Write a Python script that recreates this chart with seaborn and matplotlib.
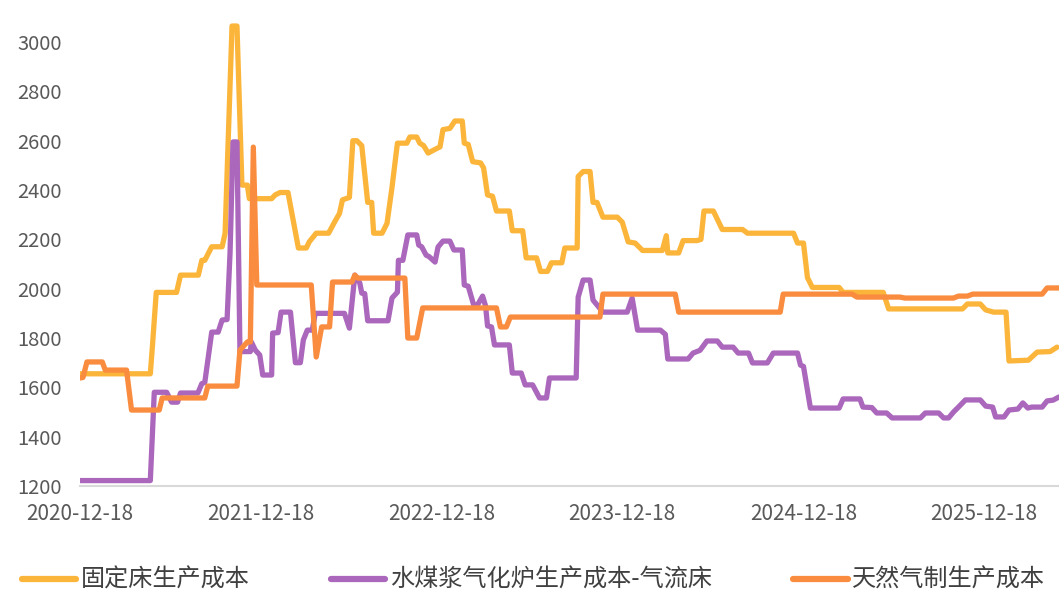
import pandas as pd
import seaborn as sns
import matplotlib.pyplot as plt
import matplotlib.dates as mdates
from matplotlib.lines import Line2D

# 固定床生产成本
fixed_dates = [
    "2020-12-18", "2021-05-09", "2021-05-13", "2021-05-21", "2021-07-01", "2021-07-09",
    "2021-08-14", "2021-08-21", "2021-08-27", "2021-09-10", "2021-10-01", "2021-10-07",
    "2021-10-21", "2021-10-31", "2021-11-10", "2021-11-21", "2021-11-25", "2022-01-09",
    "2022-01-16", "2022-01-26", "2022-02-11", "2022-03-04", "2022-03-20", "2022-03-26",
    "2022-04-09", "2022-05-04", "2022-05-16", "2022-05-26", "2022-06-01", "2022-06-15",
    "2022-06-22", "2022-06-30", "2022-07-10", "2022-07-22", "2022-07-30", "2022-08-03",
    "2022-08-20", "2022-08-30", "2022-09-09", "2022-09-20", "2022-10-09", "2022-10-15",
    "2022-10-29", "2022-11-04", "2022-11-12", "2022-11-21", "2022-12-05", "2022-12-15",
    "2022-12-21", "2023-01-04", "2023-01-14", "2023-01-29", "2023-02-02", "2023-02-10",
    "2023-02-19", "2023-03-07", "2023-03-13", "2023-03-21", "2023-03-31", "2023-04-08",
    "2023-05-04", "2023-05-10", "2023-05-31", "2023-06-07", "2023-06-28", "2023-07-06",
    "2023-07-20", "2023-07-28", "2023-08-18", "2023-08-24", "2023-09-18", "2023-09-20",
    "2023-09-30", "2023-10-14", "2023-10-20", "2023-10-28", "2023-11-09", "2023-12-08",
    "2023-12-18", "2023-12-30", "2024-01-13", "2024-01-28", "2024-03-08", "2024-03-16",
    "2024-03-19", "2024-04-10", "2024-04-19", "2024-05-17", "2024-05-25", "2024-05-31",
    "2024-06-19", "2024-07-07", "2024-08-17", "2024-08-27", "2024-11-28", "2024-12-06",
    "2024-12-18", "2024-12-26", "2025-01-05", "2025-02-28", "2025-03-08", "2025-05-28",
    "2025-06-08", "2025-11-04", "2025-11-14", "2025-12-10", "2025-12-21", "2026-01-06",
    "2026-01-31", "2026-02-06", "2026-03-17", "2026-04-04", "2026-04-30", "2026-05-14",
]
fixed_vals = [
    1655, 1655, 1760, 1985, 1985, 2055,
    2055, 2115, 2115, 2170, 2170, 2225,
    3065, 3065, 2420, 2420, 2365, 2365,
    2380, 2390, 2390, 2165, 2165, 2190,
    2225, 2225, 2270, 2305, 2360, 2370,
    2600, 2600, 2580, 2350, 2350, 2225,
    2225, 2265, 2410, 2590, 2590, 2615,
    2615, 2590, 2580, 2550, 2565, 2575,
    2645, 2650, 2680, 2680, 2590, 2585,
    2515, 2510, 2490, 2380, 2375, 2315,
    2315, 2235, 2235, 2125, 2125, 2070,
    2070, 2105, 2105, 2165, 2165, 2455,
    2475, 2475, 2350, 2350, 2290, 2290,
    2270, 2190, 2185, 2155, 2155, 2215,
    2145, 2145, 2195, 2195, 2200, 2315,
    2315, 2240, 2240, 2225, 2225, 2185,
    2185, 2045, 2005, 2005, 1985, 1985,
    1918, 1918, 1938, 1938, 1914, 1905,
    1905, 1707, 1710, 1743, 1745, 1763,
]

# 水煤浆气化炉生产成本-气流床
slurry_dates = [
    "2020-12-18", "2021-05-09", "2021-05-17", "2021-06-11", "2021-06-21", "2021-07-03",
    "2021-07-09", "2021-08-13", "2021-08-21", "2021-08-27", "2021-09-10", "2021-09-23",
    "2021-10-01", "2021-10-11", "2021-10-17", "2021-10-23", "2021-10-31", "2021-11-06",
    "2021-11-27", "2021-11-29", "2021-12-07", "2021-12-16", "2021-12-22", "2022-01-09",
    "2022-01-11", "2022-01-22", "2022-01-28", "2022-02-16", "2022-02-26", "2022-03-08",
    "2022-03-14", "2022-03-22", "2022-04-01", "2022-04-07", "2022-06-05", "2022-06-15",
    "2022-06-26", "2022-07-06", "2022-07-10", "2022-07-16", "2022-07-22", "2022-09-01",
    "2022-09-09", "2022-09-20", "2022-09-22", "2022-10-01", "2022-10-11", "2022-10-29",
    "2022-11-02", "2022-11-08", "2022-11-17", "2022-11-23", "2022-12-05", "2022-12-11",
    "2022-12-21", "2023-01-04", "2023-01-12", "2023-01-29", "2023-02-02", "2023-02-10",
    "2023-02-21", "2023-03-01", "2023-03-11", "2023-03-17", "2023-03-21", "2023-03-29",
    "2023-04-04", "2023-05-04", "2023-05-10", "2023-05-28", "2023-06-05", "2023-06-20",
    "2023-07-04", "2023-07-18", "2023-07-24", "2023-09-16", "2023-09-20", "2023-09-30",
    "2023-10-14", "2023-10-20", "2023-11-09", "2023-12-28", "2024-01-07", "2024-01-18",
    "2024-03-04", "2024-03-14", "2024-03-19", "2024-04-29", "2024-05-09", "2024-05-23",
    "2024-06-06", "2024-06-27", "2024-07-07", "2024-07-29", "2024-08-08", "2024-08-29",
    "2024-09-06", "2024-10-06", "2024-10-18", "2024-12-06", "2024-12-12", "2024-12-18",
    "2025-01-01", "2025-02-28", "2025-03-08", "2025-04-11", "2025-04-17", "2025-05-05",
    "2025-05-15", "2025-06-04", "2025-06-15", "2025-08-11", "2025-08-21", "2025-09-17",
    "2025-09-27", "2025-10-07", "2025-10-17", "2025-10-27", "2025-11-10", "2025-12-10",
    "2025-12-21", "2026-01-04", "2026-01-10", "2026-01-27", "2026-02-06", "2026-02-24",
    "2026-03-06", "2026-03-16", "2026-03-24", "2026-04-14", "2026-04-24", "2026-05-06",
    "2026-05-18",
]
slurry_vals = [
    1222, 1222, 1580, 1580, 1540, 1540,
    1577, 1577, 1615, 1620, 1824, 1824,
    1873, 1875, 2145, 2595, 2595, 1745,
    1745, 1784, 1751, 1731, 1650, 1650,
    1820, 1822, 1905, 1905, 1700, 1700,
    1792, 1832, 1832, 1900, 1900, 1840,
    2055, 2023, 1982, 1980, 1870, 1870,
    1962, 1986, 2115, 2115, 2218, 2218,
    2177, 2170, 2136, 2130, 2108, 2169,
    2193, 2193, 2157, 2157, 2015, 2010,
    1934, 1935, 1970, 1930, 1849, 1845,
    1772, 1772, 1658, 1658, 1610, 1610,
    1557, 1557, 1638, 1638, 1966, 2035,
    2035, 1954, 1905, 1905, 1962, 1832,
    1832, 1815, 1715, 1715, 1739, 1750,
    1788, 1788, 1763, 1763, 1739, 1739,
    1699, 1699, 1739, 1739, 1690, 1685,
    1516, 1516, 1553, 1553, 1520, 1518,
    1496, 1496, 1476, 1476, 1496, 1496,
    1476, 1476, 1500, 1520, 1549, 1549,
    1524, 1520, 1480, 1480, 1508, 1512,
    1537, 1516, 1520, 1520, 1545, 1548,
    1561,
]

# 天然气制生产成本
gas_dates = [
    "2020-12-18", "2020-12-24", "2021-01-01", "2021-02-01", "2021-02-07", "2021-03-22",
    "2021-04-01", "2021-05-27", "2021-06-02", "2021-08-27", "2021-09-02", "2021-10-31",
    "2021-11-06", "2021-11-21", "2021-11-27", "2021-12-03", "2021-12-10", "2022-03-30",
    "2022-04-09", "2022-04-20", "2022-05-06", "2022-05-12", "2022-06-20", "2022-06-26",
    "2022-07-02", "2022-10-05", "2022-10-11", "2022-10-29", "2022-11-10", "2023-04-08",
    "2023-04-16", "2023-04-28", "2023-05-06", "2023-11-03", "2023-11-09", "2024-04-03",
    "2024-04-10", "2024-11-01", "2024-11-07", "2025-03-26", "2025-04-05", "2025-07-01",
    "2025-07-11", "2025-10-17", "2025-10-27", "2025-11-14", "2025-11-25", "2026-04-14",
    "2026-04-24", "2026-05-18",
]
gas_vals = [
    1638, 1640, 1703, 1703, 1670, 1670,
    1508, 1508, 1557, 1557, 1605, 1605,
    1751, 1784, 1784, 2574, 2015, 2015,
    1723, 1845, 1845, 2027, 2027, 2055,
    2043, 2043, 1800, 1800, 1922, 1922,
    1845, 1845, 1885, 1885, 1978, 1978,
    1905, 1905, 1978, 1978, 1966, 1966,
    1962, 1962, 1970, 1970, 1978, 1978,
    2003, 2003,
]

series_names = ["固定床生产成本", "水煤浆气化炉生产成本-气流床", "天然气制生产成本"]
colors = ["#FBB53B", "#AA67BC", "#F98C3E"]
tick_dates = ["2020-12-18", "2021-12-18", "2022-12-18", "2023-12-18", "2024-12-18", "2025-12-18"]
y_ticks = [1200, 1400, 1600, 1800, 2000, 2200, 2400, 2600, 2800, 3000]

frames = []
for name, d, v in zip(series_names, [fixed_dates, slurry_dates, gas_dates],
                      [fixed_vals, slurry_vals, gas_vals]):
    frames.append(pd.DataFrame({"date": pd.to_datetime(d), "value": v, "series": name}))
df = pd.concat(frames, ignore_index=True)

sns.set_style("white")
plt.rcParams['font.family'] = ['Noto Sans CJK SC', 'DejaVu Sans']

fig = plt.figure(figsize=(10.59, 5.91), dpi=100)
ax = fig.add_axes([80 / 1059, 105 / 591, 979 / 1059, 476 / 591])

sns.lineplot(data=df, x="date", y="value", hue="series", hue_order=series_names,
             palette=colors, linewidth=3.8, ax=ax, legend=False, sort=False,
             estimator=None)
for line in ax.lines:
    line.set_solid_joinstyle("round")
    line.set_solid_capstyle("round")

ax.set_xlim(pd.Timestamp("2020-12-18"), pd.Timestamp("2026-05-18"))
ax.set_ylim(1200, 3130)
ax.set_yticks(y_ticks)
ax.set_xticks(pd.to_datetime(tick_dates))
ax.xaxis.set_major_formatter(mdates.DateFormatter("%Y-%m-%d"))
ax.set_xlabel("")
ax.set_ylabel("")

for s in ["top", "right", "left"]:
    ax.spines[s].set_visible(False)
ax.spines["bottom"].set_color("#D9D9D9")
ax.spines["bottom"].set_linewidth(1.5)

ax.tick_params(axis="y", length=0, pad=13, labelsize=14.5, labelcolor="#595959")
ax.tick_params(axis="x", length=4, width=1.2, color="#D9D9D9", pad=8,
               labelsize=15, labelcolor="#595959", direction="out")

handles = [Line2D([0], [0], color=c, lw=4.5, solid_capstyle="round") for c in colors]
fig.legend(handles, series_names, loc="center left",
           bbox_to_anchor=(22 / 1059, 11 / 591), ncol=3, frameon=False,
           fontsize=17.4, labelcolor="#404040", handlelength=2.25,
           handletextpad=0.2, columnspacing=3.35, borderpad=0, borderaxespad=0)

fig.savefig("out.png", dpi=100)
